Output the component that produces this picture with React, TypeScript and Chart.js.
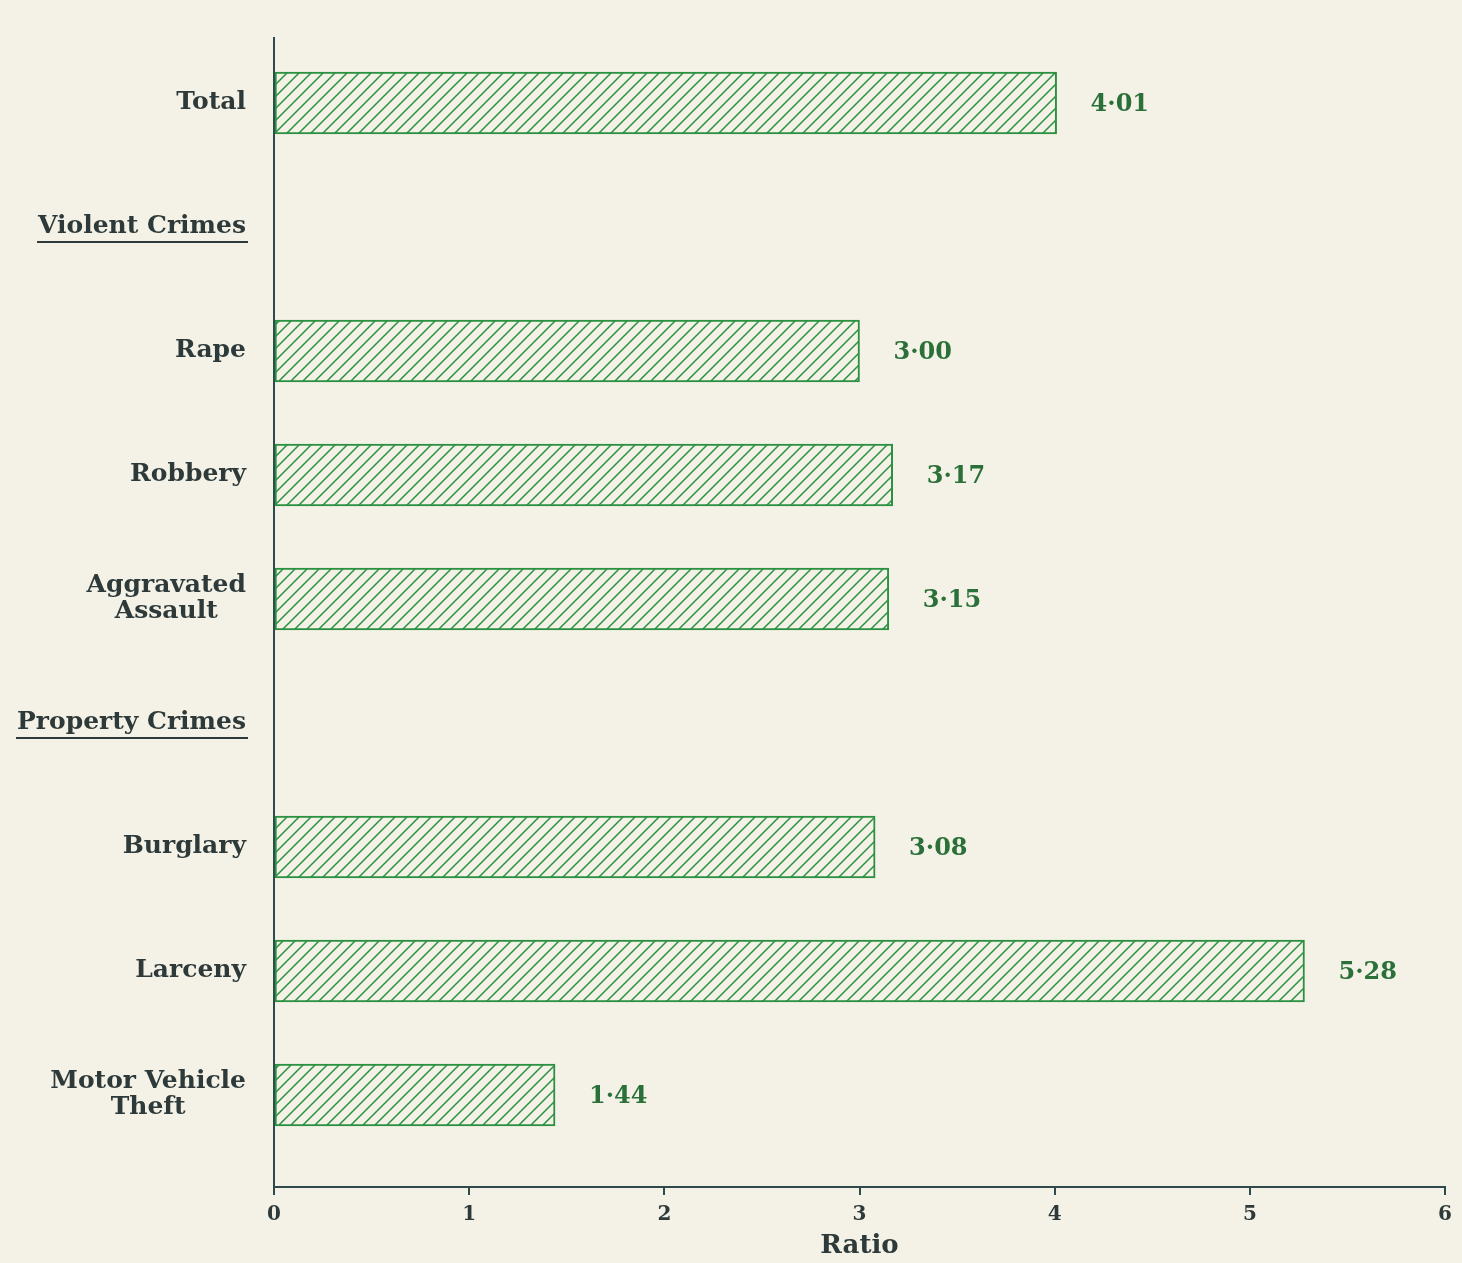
import React, { useEffect, useRef } from 'react';
import { Chart, registerables } from 'chart.js';

Chart.register(...registerables);

const categories = ['Total', 'Violent Crimes', 'Rape', 'Robbery', 'Aggravated Assault', 'Property Crimes', 'Burglary', 'Larceny', 'Motor Vehicle Theft'];
const tickLabels = [['Total'], ['Violent Crimes'], ['Rape'], ['Robbery'], ['Aggravated', 'Assault'], ['Property Crimes'], ['Burglary'], ['Larceny'], ['Motor Vehicle', 'Theft']];
const ratios = [4.01, null, 3.0, 3.17, 3.15, null, 3.08, 5.28, 1.44];
const headerIndexes = [1, 5];
const xTicks = [0, 1, 2, 3, 4, 5, 6];

const BG = '#f4f2e7';
const GREEN = '#2a9140';
const LABEL_GREEN = '#2a7038';
const AXIS = '#2f4a4a';
const TEXT = '#2e3a3a';
const SERIF = '"DejaVu Serif", "Liberation Serif", serif';
const LABEL_FONT = `bold 25px ${SERIF}`;

function makeHatch(): CanvasPattern | string {
  const s = 12;
  const c = document.createElement('canvas');
  c.width = s;
  c.height = s;
  const ctx = c.getContext('2d');
  if (!ctx) return BG;
  ctx.fillStyle = BG;
  ctx.fillRect(0, 0, s, s);
  ctx.strokeStyle = GREEN;
  ctx.lineWidth = 1.5;
  ctx.beginPath();
  ctx.moveTo(0, s);
  ctx.lineTo(s, 0);
  ctx.moveTo(-2, 2);
  ctx.lineTo(2, -2);
  ctx.moveTo(s - 2, s + 2);
  ctx.lineTo(s + 2, s - 2);
  ctx.stroke();
  const p = ctx.createPattern(c, 'repeat');
  return p || BG;
}

export default function App() {
  const ref = useRef<HTMLCanvasElement | null>(null);

  useEffect(() => {
    if (!ref.current) return;
    const hatch = makeHatch();
    const points = ratios
      .map((v, i) => (v === null ? null : { x: v, y: i }))
      .filter((p) => p !== null) as { x: number; y: number }[];

    const valueLabels = {
      id: 'valueLabels',
      afterDatasetsDraw(chart: any) {
        const ctx = chart.ctx;
        const meta = chart.getDatasetMeta(0);
        ctx.save();
        ctx.font = `bold 24px ${SERIF}`;
        ctx.fillStyle = LABEL_GREEN;
        ctx.textAlign = 'left';
        ctx.textBaseline = 'middle';
        meta.data.forEach((el: any, i: number) => {
          const v = points[i].x;
          ctx.fillText(v.toFixed(2).replace('.', '\u00B7'), el.x + 34, el.y + 2);
        });
        ctx.restore();
      },
    };

    const categoryLabels = {
      id: 'categoryLabels',
      afterDraw(chart: any) {
        const ctx = chart.ctx;
        const ys = chart.scales.y;
        const right = chart.chartArea.left - 28;
        const lh = 26;
        ctx.save();
        ctx.font = LABEL_FONT;
        ctx.fillStyle = TEXT;
        ctx.strokeStyle = TEXT;
        ctx.textBaseline = 'middle';
        ctx.textAlign = 'center';
        tickLabels.forEach((lines, idx) => {
          const cy = ys.getPixelForValue(idx);
          const widths = lines.map((l) => ctx.measureText(l).width);
          const maxW = Math.max(...widths);
          const cx = right - maxW / 2;
          const y0 = cy - ((lines.length - 1) * lh) / 2;
          lines.forEach((l, k) => ctx.fillText(l, cx, y0 + k * lh));
          if (headerIndexes.includes(idx)) {
            ctx.lineWidth = 2;
            ctx.beginPath();
            ctx.moveTo(right - maxW - 1, cy + 15);
            ctx.lineTo(right + 2, cy + 15);
            ctx.stroke();
          }
        });
        ctx.restore();
      },
    };

    const chart = new Chart(ref.current, {
      type: 'bar',
      data: {
        labels: categories,
        datasets: [
          {
            label: 'Ratio',
            data: points as any,
            backgroundColor: hatch as any,
            borderColor: GREEN,
            borderWidth: 2,
            borderSkipped: false,
            barThickness: 62,
          },
        ],
      },
      options: {
        indexAxis: 'y',
        animation: false,
        responsive: false,
        maintainAspectRatio: false,
        layout: { padding: { top: 38, right: 17, left: 0, bottom: 0 } },
        plugins: {
          legend: { display: false },
          tooltip: { enabled: false },
        },
        scales: {
          y: {
            type: 'linear',
            reverse: true,
            offset: false,
            min: -0.524,
            max: 8.742,
            afterBuildTicks: (scale: any) => {
              scale.ticks = categories.map((_, i) => ({ value: i }));
            },
            afterFit: (scale: any) => {
              scale.width = 274;
              scale.paddingTop = 0;
              scale.paddingBottom = 0;
            },
            ticks: { display: false },
            grid: { display: false, drawTicks: false },
            border: { display: true, color: AXIS, width: 2 },
          },
          x: {
            type: 'linear',
            min: 0,
            max: 6,
            afterBuildTicks: (scale: any) => {
              scale.ticks = xTicks.map((v) => ({ value: v }));
            },
            afterFit: (scale: any) => {
              scale.height = 76;
              scale.paddingLeft = 0;
              scale.paddingRight = 0;
            },
            ticks: {
              padding: 8,
              color: TEXT,
              font: { family: SERIF, size: 20, weight: 'bold' },
              maxRotation: 0,
            },
            grid: {
              drawOnChartArea: false,
              drawTicks: true,
              tickLength: 8,
              color: AXIS,
              lineWidth: 2,
            },
            border: { display: true, color: AXIS, width: 2 },
            title: {
              display: true,
              text: 'Ratio',
              color: TEXT,
              font: { family: SERIF, size: 26, weight: 'bold' },
              padding: { top: 0, bottom: 1 },
            },
          },
        },
      },
      plugins: [valueLabels, categoryLabels],
    });
    return () => chart.destroy();
  }, []);

  return (
    <div style={{ position: 'fixed', left: 0, top: 0, width: 1462, height: 1263, background: BG }}>
      <canvas ref={ref} width={1462} height={1263} style={{ display: 'block', width: 1462, height: 1263 }} />
    </div>
  );
}
